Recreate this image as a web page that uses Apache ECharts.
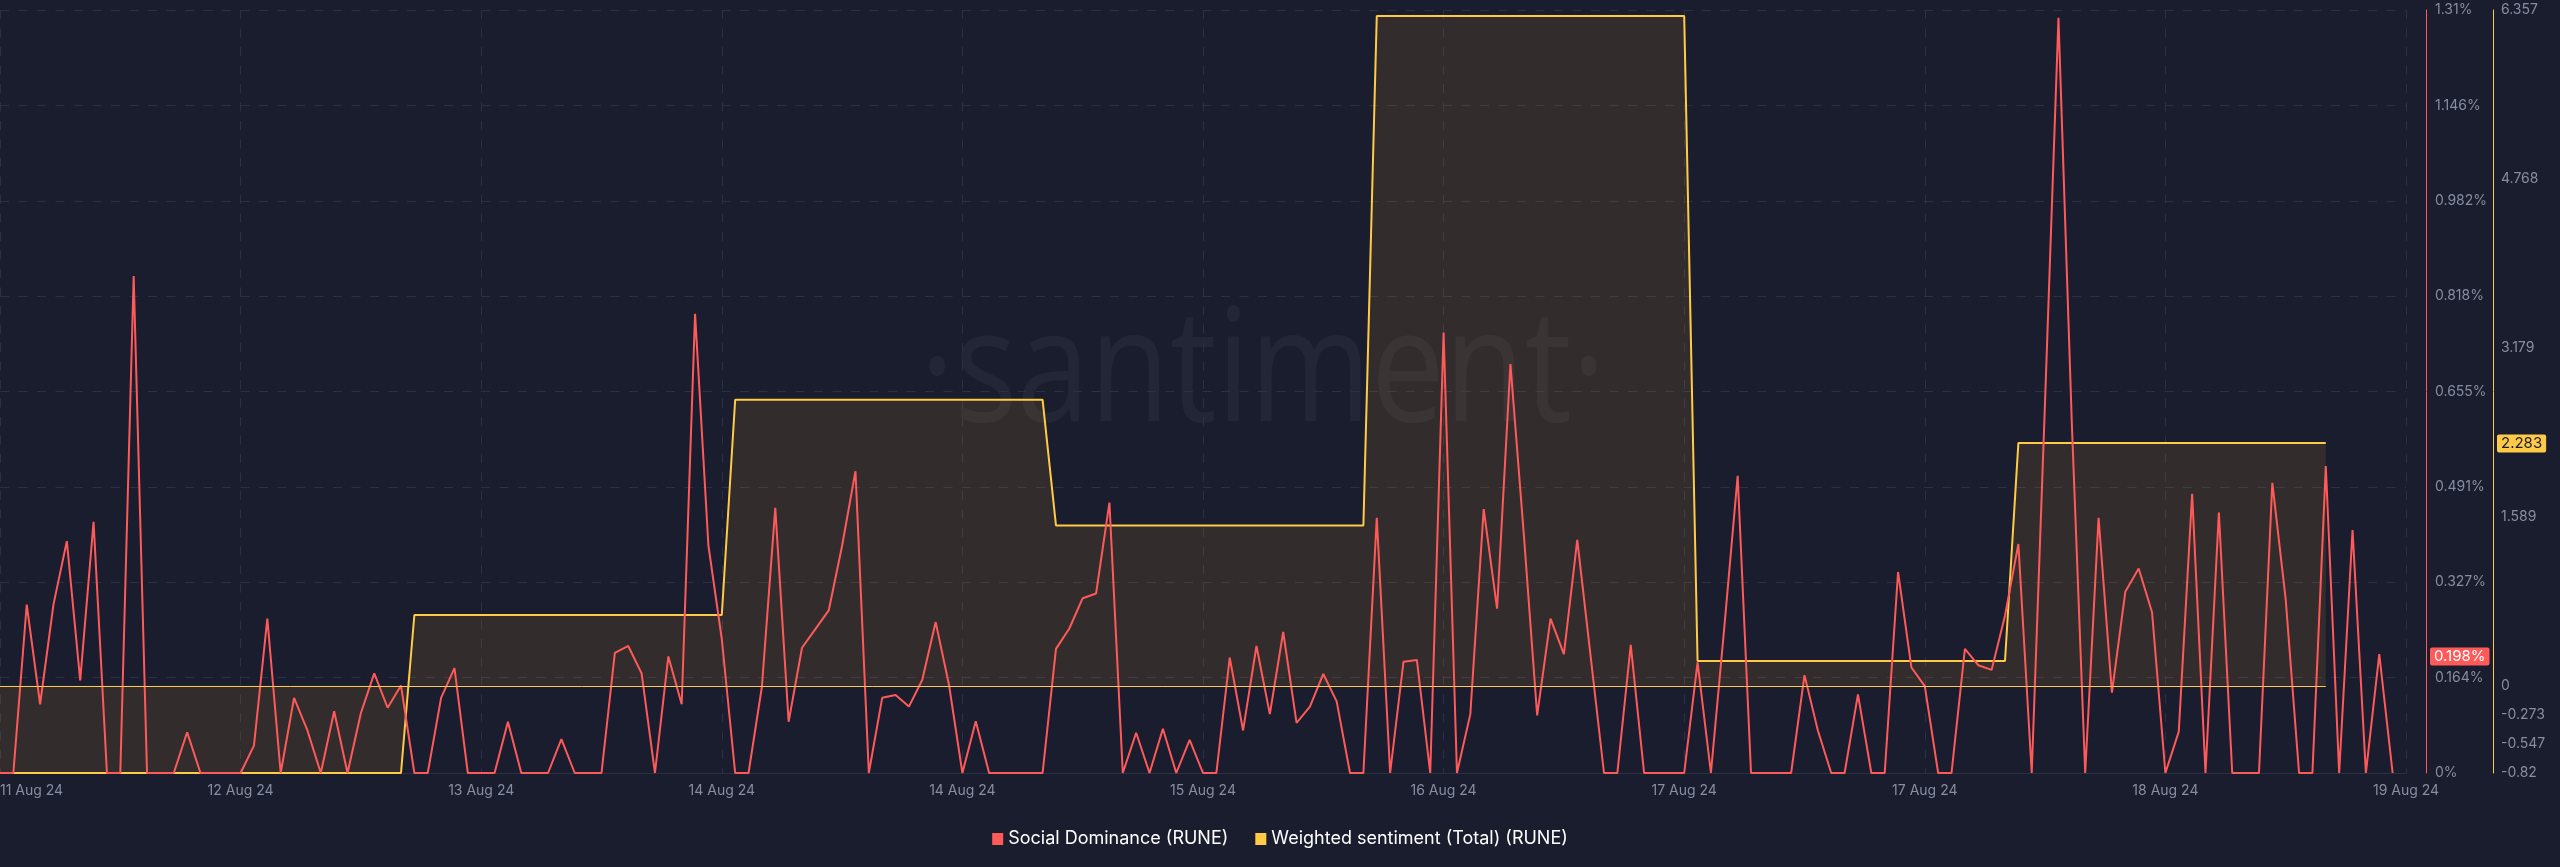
<!DOCTYPE html>
<html><head><meta charset="utf-8">
<script src="https://cdn.jsdelivr.net/npm/echarts@6/dist/echarts.min.js"></script>
<style>html,body{margin:0;padding:0;background:#1a1d2d}#chart{width:2560px;height:867px}</style>
</head><body><div id="chart"></div>
<script>
// Hourly timeline: 11 Aug 2024 18:00 UTC ... 19 Aug 2024 06:00 UTC (181 slots)
const startTime = Date.UTC(2024, 7, 11, 18);
const hourCount = 181;
const categories = [];
for (let i = 0; i < hourCount; i++) {
  categories.push(new Date(startTime + i * 3600000).toISOString());
}

// Social Dominance (RUNE), % — hourly
const socialDominance = [
  0, 0, 0.289, 0.118, 0.289, 0.398, 0.159, 0.431, 0, 0,
  0.853, 0, 0, 0, 0.070, 0, 0, 0, 0, 0.047,
  0.265, 0, 0.129, 0.073, 0, 0.106, 0, 0.103, 0.171, 0.112,
  0.150, 0, 0, 0.129, 0.180, 0, 0, 0, 0.088, 0,
  0, 0, 0.058, 0, 0, 0, 0.206, 0.218, 0.171, 0,
  0.200, 0.118, 0.788, 0.390, 0.230, 0, 0, 0.148, 0.455, 0.088,
  0.215, 0.247, 0.279, 0.390, 0.518, 0, 0.129, 0.134, 0.114, 0.160,
  0.259, 0.151, 0, 0.089, 0, 0, 0, 0, 0, 0.213,
  0.248, 0.300, 0.308, 0.464, 0, 0.069, 0, 0.076, 0, 0.057,
  0, 0, 0.198, 0.073, 0.218, 0.101, 0.242, 0.086, 0.114, 0.170,
  0.123, 0, 0, 0.438, 0, 0.191, 0.194, 0, 0.756, 0,
  0.101, 0.453, 0.282, 0.702, 0.410, 0.099, 0.265, 0.204, 0.400, 0.200,
  0, 0, 0.220, 0, 0, 0, 0, 0.190, 0, 0.250,
  0.510, 0, 0, 0, 0, 0.168, 0.073, 0, 0, 0.135,
  0, 0, 0.345, 0.181, 0.149, 0, 0, 0.213, 0.185, 0.177,
  0.270, 0.393, 0, 0.640, 1.296, 0.600, 0, 0.438, 0.138, 0.311,
  0.351, 0.276, 0, 0.071, 0.479, 0, 0.447, 0, 0, 0,
  0.498, 0.298, 0, 0, 0.527, 0, 0.417, 0, 0.204, 0
];

// Weighted sentiment (Total) (RUNE) — hourly
const weightedSentiment = [
  -0.82, -0.82, -0.82, -0.82, -0.82, -0.82, -0.82, -0.82, -0.82, -0.82,
  -0.82, -0.82, -0.82, -0.82, -0.82, -0.82, -0.82, -0.82, -0.82, -0.82,
  -0.82, -0.82, -0.82, -0.82, -0.82, -0.82, -0.82, -0.82, -0.82, -0.82,
  -0.82,
  0.666, 0.666, 0.666, 0.666, 0.666, 0.666, 0.666, 0.666, 0.666, 0.666, 0.666, 0.666,
  0.666, 0.666, 0.666, 0.666, 0.666, 0.666, 0.666, 0.666, 0.666, 0.666, 0.666, 0.666,
  2.69, 2.69, 2.69, 2.69, 2.69, 2.69, 2.69, 2.69, 2.69, 2.69, 2.69, 2.69,
  2.69, 2.69, 2.69, 2.69, 2.69, 2.69, 2.69, 2.69, 2.69, 2.69, 2.69, 2.69,
  1.509, 1.509, 1.509, 1.509, 1.509, 1.509, 1.509, 1.509, 1.509, 1.509, 1.509, 1.509,
  1.509, 1.509, 1.509, 1.509, 1.509, 1.509, 1.509, 1.509, 1.509, 1.509, 1.509, 1.509,
  6.30, 6.30, 6.30, 6.30, 6.30, 6.30, 6.30, 6.30, 6.30, 6.30, 6.30, 6.30,
  6.30, 6.30, 6.30, 6.30, 6.30, 6.30, 6.30, 6.30, 6.30, 6.30, 6.30, 6.30,
  0.233, 0.233, 0.233, 0.233, 0.233, 0.233, 0.233, 0.233, 0.233, 0.233, 0.233, 0.233,
  0.233, 0.233, 0.233, 0.233, 0.233, 0.233, 0.233, 0.233, 0.233, 0.233, 0.233, 0.233,
  2.283, 2.283, 2.283, 2.283, 2.283, 2.283, 2.283, 2.283, 2.283, 2.283, 2.283, 2.283,
  2.283, 2.283, 2.283, 2.283, 2.283, 2.283, 2.283, 2.283, 2.283, 2.283, 2.283, 2.283
];

// Current-value badges
const latestSocial = 0.198;
const latestSentiment = 2.283;

// Axis ticks
const socialMax = 1.3095;
const socialTickLabels = ['0%', '0.164%', '0.327%', '0.491%', '0.655%', '0.818%', '0.982%', '1.146%', '1.31%'];
const sentimentTicks = [-0.82, -0.547, -0.273, 0, 1.589, 3.179, 4.768, 6.357];
const sentimentTickLabels = ['-0.82', '-0.547', '-0.273', '0', '1.589', '3.179', '4.768', '6.357'];
const monthNames = ['Jan','Feb','Mar','Apr','May','Jun','Jul','Aug','Sep','Oct','Nov','Dec'];

const RED = '#ff5a5a';
const YELLOW = '#ffcb47';
const GRID = '#2c3044';
const LABEL = '#878da1';
const FONT = 'Inter, "Noto Sans", sans-serif';
const HIDDEN = 'rgba(0,0,0,0)';

const chart = echarts.init(document.getElementById('chart'), null, { renderer: 'canvas' });
const socialInterval = socialMax / 8;

chart.setOption({
  backgroundColor: '#1a1d2d',
  animation: false,
  textStyle: { fontFamily: FONT },
  grid: { left: 0, right: 154, top: 10, bottom: 94, containLabel: false, outerBoundsMode: 'none' },
  graphic: [{
    type: 'text',
    x: 1263, y: 376,
    z: 0,
    scaleY: 1.2,
    style: {
      text: '·santiment·',
      font: '400 131px "Open Sans", sans-serif',
      fill: 'rgba(255,255,255,0.045)',
      textAlign: 'center',
      textVerticalAlign: 'middle'
    }
  }],
  legend: {
    top: 825,
    left: 'center',
    icon: 'rect',
    itemWidth: 11,
    itemHeight: 12,
    itemGap: 27,
    textStyle: { color: '#ffffff', fontSize: 18, fontFamily: FONT },
    data: ['Social Dominance (RUNE)', 'Weighted sentiment (Total) (RUNE)']
  },
  xAxis: {
    type: 'category',
    data: categories,
    boundaryGap: false,
    axisLine: { show: true, lineStyle: { color: GRID } },
    axisTick: { show: false },
    axisLabel: {
      interval: 17,
      color: LABEL,
      fontSize: 14,
      margin: 11,
      alignMinLabel: 'left',
      formatter: function (v) {
        const d = new Date(v);
        return d.getUTCDate() + ' ' + monthNames[d.getUTCMonth()] + ' ' + String(d.getUTCFullYear()).slice(2);
      }
    },
    splitLine: { show: true, interval: 17, lineStyle: { color: GRID, type: [9, 9.5] } }
  },
  yAxis: [{
    type: 'value',
    position: 'right',
    offset: 20,
    min: 0,
    max: socialMax,
    interval: socialInterval,
    axisLine: { show: true, lineStyle: { color: RED, width: 1 } },
    axisTick: { show: false },
    axisLabel: {
      color: LABEL, fontSize: 14, margin: 9,
      formatter: function (v) { return socialTickLabels[Math.round(v / socialInterval)]; }
    },
    splitLine: { show: true, lineStyle: { color: GRID, type: [9, 9.5] } }
  }, {
    type: 'value',
    position: 'right',
    offset: 87,
    min: -0.82,
    max: 6.357,
    axisLine: { show: true, lineStyle: { color: YELLOW, width: 1 } },
    axisTick: { show: false },
    splitLine: { show: false },
    axisLabel: {
      color: LABEL, fontSize: 14, margin: 8,
      customValues: sentimentTicks,
      formatter: function (v) {
        const i = sentimentTicks.indexOf(v);
        return i >= 0 ? sentimentTickLabels[i] : '';
      }
    }
  }],
  series: [{
    name: 'Weighted sentiment (Total) (RUNE)',
    type: 'line',
    yAxisIndex: 1,
    data: weightedSentiment,
    symbol: 'none',
    z: 2,
    color: YELLOW,
    lineStyle: { color: YELLOW, width: 2 },
    areaStyle: { color: 'rgba(255,190,40,0.15)', origin: 0 },
    markLine: {
      silent: true,
      symbol: ['none', 'none'],
      animation: false,
      data: [
        [
          { coord: [categories[0], 0], lineStyle: { color: YELLOW, width: 1, type: 'solid' }, label: { show: false } },
          { coord: [categories[weightedSentiment.length - 1], 0] }
        ],
        {
          yAxis: latestSentiment,
          lineStyle: { color: HIDDEN, width: 1, type: 'solid' },
          label: {
            show: true, position: 'end', distance: 91,
            formatter: String(latestSentiment),
            backgroundColor: YELLOW, color: '#1a1d2d',
            fontSize: 15, fontFamily: FONT, padding: [2, 4, 1, 4], borderRadius: 2
          }
        }
      ]
    }
  }, {
    name: 'Social Dominance (RUNE)',
    type: 'line',
    yAxisIndex: 0,
    data: socialDominance,
    symbol: 'none',
    z: 3,
    color: RED,
    lineStyle: { color: RED, width: 2 },
    markLine: {
      silent: true,
      symbol: ['none', 'none'],
      animation: false,
      data: [{
        yAxis: latestSocial,
        lineStyle: { color: HIDDEN, width: 1, type: 'solid' },
        label: {
          show: true, position: 'end', distance: 24,
          formatter: latestSocial + '%',
          backgroundColor: RED, color: '#ffffff',
          fontSize: 15, fontFamily: FONT, padding: [2, 4, 1, 4], borderRadius: 2
        }
      }]
    }
  }]
});
</script></body></html>
